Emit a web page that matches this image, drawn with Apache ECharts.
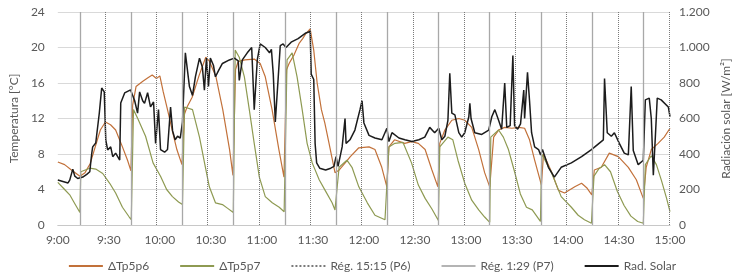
<!DOCTYPE html>
<html>
<head>
<meta charset="utf-8">
<script src="https://cdn.jsdelivr.net/npm/echarts@6/dist/echarts.min.js"></script>
<style>
  html, body { margin: 0; padding: 0; background: #fff; }
  #chart { width: 744px; height: 280px; }
</style>
</head>
<body>
<div id="chart"></div>
<script>
// minutes after 9:00
const timeTicks = [0, 30, 60, 90, 120, 150, 180, 210, 240, 270, 300, 330, 360]

// riegos (minutos desde 9:00)
const regP6 = [13, 28, 43, 58, 73, 88, 103, 118.5, 133.5, 148.5, 163.5, 178.5, 194, 209, 224, 239, 254, 269, 284, 299, 314.5, 329.5, 344.5, 359.5]
const regP7 = [13, 43, 73, 103, 133.5, 163.5, 194, 224, 254, 284, 314.5, 344.5]

// [min, °C]
const dTp5p6 = [[0, 7.1], [4, 6.8], [8, 6.2], [13, 5.5], [16, 5.9], [19, 6.9], [22, 8.8], [25, 10.7], [28, 11.6], [31, 11.3], [34, 10.7], [38, 8.8], [41, 7.3], [43, 6.1],
  [44, 13.5], [46, 15.6], [50, 16.2], [53, 16.6], [55.5, 16.9], [58, 16.5], [60, 16.8], [62, 15], [64.5, 13], [67.5, 10.5], [70, 8.5], [73, 6.8],
  [74.5, 12.5], [76, 13.3], [79, 14.4], [83, 16.8], [87, 18.9], [89, 18.5], [93, 16.7], [97, 13], [101, 8.5], [103, 5.6],
  [104.5, 17.5], [106, 18.4], [110, 18.6], [115.5, 18.7], [119, 18.2], [122, 16.7], [126, 13], [130, 8.5], [133, 5.4],
  [134.5, 17.5], [136, 18.2], [139, 19.2], [142, 20.5], [144, 21], [146, 21.6], [148.4, 22.1], [150.5, 19.7], [152.5, 16], [155, 13], [157, 11.5], [159.5, 9.2], [163, 5.9],
  [165.5, 6.2], [169, 7], [172, 7.7], [177, 8.7], [183, 8.8], [186.5, 8.5], [190.5, 6.5], [193.5, 4.3],
  [194.7, 8.8], [198, 9.6], [204, 9.2], [208, 9.4], [212, 9.2], [216, 8.5], [220, 6.2], [223.5, 4.3],
  [224.6, 9.2], [227.6, 10.7], [231.7, 11.8], [235.8, 12], [239.3, 11.8], [243.4, 11], [247.5, 8.5], [251, 5.9], [254, 4.3],
  [256.3, 9.9], [259.2, 10.7], [262.8, 11], [267, 10.9], [271, 11], [274.5, 10.9], [277.4, 9.6], [280.4, 7.3], [284.4, 4.5],
  [285.6, 8], [290.3, 6], [294.4, 3.9], [298, 3.6], [304, 4.3], [308, 4.7], [311, 4.2], [314, 3.4],
  [315.5, 6.2], [319.6, 6.5], [324.3, 8.1], [329.6, 7.7], [335.5, 6.5], [340.2, 5.1], [344.3, 3],
  [346, 6.5], [349, 8.5], [353, 9.2], [356.6, 9.9], [360, 10.9]]

const dTp5p7 = [[0, 4.8], [4, 4], [7, 3.4], [10, 2.4], [13, 1.4], [13.5, 6], [18.8, 6.4], [22.3, 6.3], [26.4, 5.8], [30.5, 4.7], [34, 3.6], [38, 2], [42, 0.9], [43.2, 0.6],
  [44.5, 13], [47, 12], [51.6, 10], [56, 7], [60.4, 5.5], [64, 4], [67.4, 3.2], [71, 2.6], [73.3, 2.3],
  [74.5, 13.3], [79.2, 13], [83.3, 9.9], [86.8, 6.5], [89.1, 4.3], [92.7, 2.5], [96.8, 2.3], [99.7, 1.9], [103.2, 1.4],
  [104.3, 19.7], [106.7, 18.9], [109.7, 16.7], [112.6, 13], [115.5, 9.2], [118.5, 5.4], [122, 3.2], [126.1, 2.5], [130.2, 2], [133.1, 1.5],
  [134.8, 18.6], [137.8, 19.4], [140.7, 16.7], [143.7, 13], [146.6, 9.2], [149.6, 7], [153.7, 5.1], [157.2, 3.9], [161.3, 2.5], [163, 1.7],
  [165.4, 6.5], [170, 7.3], [173, 6.5], [177, 4.3], [182, 2.5], [186.5, 1.1], [192.4, 0.6], [193.5, 0.5],
  [194.7, 8.8], [198.2, 9.2], [203, 9.3], [208, 7], [212, 4.5], [216, 3], [220, 1.8], [223.8, 0.5],
  [224.6, 8.8], [229.4, 9.9], [232.3, 9.6], [235.3, 7.3], [239.3, 4.7], [243.4, 2.8], [247.5, 1.7], [251, 0.9], [254, 0.3],
  [254.6, 9.9], [259.2, 10.7], [262, 9.9], [265, 8.5], [268.6, 6], [272, 3.5], [275.6, 2], [279, 1.7], [283.8, 0.4],
  [284.6, 8], [290.3, 5.9], [296, 3.2], [302, 2], [306, 1.1], [309.7, 0.6], [313.8, 0.2],
  [315.3, 5.5], [318, 6.3], [321.5, 6.8], [325, 6], [329, 3.8], [333, 2.2], [337, 1], [341, 0.4], [344.3, 0.2],
  [345.5, 6.8], [349, 7.8], [352, 6.8], [355, 5], [358, 3], [360, 1.5]]

// [min, W/m2]
const radSolar = [[0, 253], [3, 245], [6, 237], [7, 253], [8.8, 315], [10, 275], [11.7, 262], [14.7, 270], [17, 285], [18.8, 300], [19.9, 400], [20.5, 440], [22.3, 462],
  [24.4, 631], [25.8, 772], [27.3, 750], [28.2, 479], [29.3, 423], [31.1, 440], [32.3, 385], [34, 405], [36.4, 366], [37, 687], [39.3, 744], [42.8, 761],
  [45.2, 700], [46.9, 630], [48.1, 750], [49.9, 700], [51, 685], [52.8, 745], [54.5, 665], [56.3, 693], [57.5, 460], [59.2, 650], [60.4, 425], [62.8, 410],
  [64.5, 425], [66.3, 665], [67.5, 530], [69, 480], [70.4, 500], [72, 490], [73.3, 580], [75, 970], [77.4, 780], [79.2, 730], [80.9, 835], [83.3, 940],
  [85, 890], [86.2, 760], [87.4, 940], [88.6, 780], [89.7, 940], [91.5, 900], [92.7, 835], [94.5, 870], [96.8, 910], [100.9, 930], [103.8, 940],
  [106.1, 925], [106.7, 815], [108.5, 930], [111.4, 970], [114, 1000], [115.5, 650], [117.3, 930], [119, 1020], [122, 1000], [124.5, 970], [125.6, 990],
  [126.7, 850], [127.9, 580], [129.6, 830], [130.8, 1010], [132.5, 1020], [134.2, 1000], [137.2, 1030], [141.3, 1050], [145.5, 1080], [148.4, 1090],
  [149, 850], [150.5, 820], [151.3, 460], [152.2, 350], [154, 320], [157.5, 310], [160.5, 320], [162.4, 330], [163.6, 385], [164.8, 330], [167.2, 440],
  [168.9, 600], [169.5, 460], [171.8, 480], [174.7, 535], [177.7, 650], [178.9, 700], [180, 575], [183, 505], [186.5, 490], [190.6, 480], [193.5, 545],
  [194.7, 470], [196.5, 520], [200.6, 490], [204.1, 480], [208.2, 470], [212.3, 480], [215.8, 495], [218.7, 550], [221.6, 520], [224, 545], [225.8, 480],
  [227.6, 500], [229.4, 590], [230.5, 855], [231.7, 630], [233.5, 620], [235.8, 520], [237.5, 495], [239.3, 520], [241.7, 610], [242.3, 685], [243, 600],
  [245.2, 520], [249.3, 510], [253.4, 535], [255.2, 610], [257, 650], [259.2, 590], [261, 540], [262.8, 800], [264, 550], [266, 560], [267.6, 955],
  [268.6, 560], [270.4, 540], [272.1, 570], [274, 760], [274.5, 600], [276.2, 860], [277.4, 700], [278.6, 520], [280.4, 440], [282.7, 425], [283.9, 395],
  [285, 425], [288.5, 325], [292, 270], [296, 325], [302, 350], [308, 385], [313.8, 425], [320.8, 480], [321.5, 825], [323.1, 520], [325.5, 500],
  [327.3, 520], [330.2, 460], [333.1, 405], [335.5, 395], [337.2, 780], [338.4, 420], [341.3, 340], [344.3, 365], [345.5, 705], [347.8, 715],
  [349, 600], [350.2, 280], [351.4, 500], [352.5, 715], [354.8, 705], [359, 665], [360, 610]]

const textColor = '#595959'
const font = 'Lato, "Open Sans", sans-serif'

function minToTime(v) {
  const h = 9 + Math.floor(v / 60)
  const m = Math.round(v % 60)
  return h + ':' + (m < 10 ? '0' + m : m)
}

function thousands(v) {
  return v >= 1000 ? String(v).replace(/(\d)(\d{3})$/, '$1.$2') : String(v)
}

const chart = echarts.init(document.getElementById('chart'))
chart.setOption({
  animation: false,
  textStyle: { fontFamily: font },
  grid: { left: 55, right: 74, top: 12, bottom: 55 },
  legend: {
    bottom: 3,
    left: 'center',
    itemWidth: 34,
    itemHeight: 8,
    itemGap: 30,
    itemStyle: { opacity: 0 },
    textStyle: { color: textColor, fontSize: 12, fontFamily: font },
    data: ['ΔTp5p6', 'ΔTp5p7', 'Rég. 15:15 (P6)', 'Rég. 1:29 (P7)', 'Rad. Solar']
  },
  xAxis: {
    type: 'value',
    min: 0,
    max: 360,
    interval: 30,
    axisLine: { show: true, lineStyle: { color: '#c8c8c8' } },
    axisTick: { show: false },
    splitLine: { show: false },
    axisLabel: { color: textColor, fontSize: 12, margin: 9, formatter: v => timeTicks.includes(v) ? minToTime(v) : '' }
  },
  yAxis: [
    {
      type: 'value',
      min: 0,
      max: 24,
      interval: 4,
      name: 'Temperatura [°C]',
      nameLocation: 'middle',
      nameGap: 36,
      nameTextStyle: { color: textColor, fontSize: 12 },
      axisLine: { show: false },
      axisTick: { show: false },
      axisLabel: { color: textColor, fontSize: 12, margin: 13 },
      splitLine: { lineStyle: { color: '#d9d9d9' } }
    },
    {
      type: 'value',
      min: 0,
      max: 1200,
      interval: 200,
      name: 'Radiación solar [W/m²]',
      nameLocation: 'middle',
      nameGap: 46,
      nameTextStyle: { color: textColor, fontSize: 12 },
      axisLine: { show: false },
      axisTick: { show: false },
      axisLabel: { color: textColor, fontSize: 12, margin: 9, formatter: thousands },
      splitLine: { show: false }
    }
  ],
  series: [
    {
      name: 'ΔTp5p6',
      type: 'line',
      symbol: 'none',
      z: 3,
      lineStyle: { color: '#c2713a', width: 1.2 },
      itemStyle: { color: '#c2713a' },
      data: dTp5p6
    },
    {
      name: 'ΔTp5p7',
      type: 'line',
      symbol: 'none',
      z: 3,
      lineStyle: { color: '#8e9a52', width: 1.2 },
      itemStyle: { color: '#8e9a52' },
      data: dTp5p7
    },
    {
      name: 'Rég. 15:15 (P6)',
      type: 'line',
      symbol: 'none',
      z: 1,
      lineStyle: { color: '#7a7a7a', width: 1, type: 'dotted' },
      itemStyle: { color: '#7a7a7a' },
      data: [],
      markLine: {
        silent: true,
        symbol: ['none', 'none'],
        label: { show: false },
        lineStyle: { color: '#7a7a7a', width: 1, type: 'dotted' },
        data: regP6.map(t => ({ xAxis: t }))
      }
    },
    {
      name: 'Rég. 1:29 (P7)',
      type: 'line',
      symbol: 'none',
      z: 1,
      lineStyle: { color: '#b4b4b4', width: 1, type: 'solid' },
      itemStyle: { color: '#b4b4b4' },
      data: [],
      markLine: {
        silent: true,
        symbol: ['none', 'none'],
        label: { show: false },
        lineStyle: { color: '#a8a8a8', width: 1.3, type: 'solid' },
        data: regP7.map(t => ({ xAxis: t }))
      }
    },
    {
      name: 'Rad. Solar',
      type: 'line',
      yAxisIndex: 1,
      symbol: 'none',
      z: 4,
      lineStyle: { color: '#1c1c1c', width: 1.5 },
      itemStyle: { color: '#1c1c1c' },
      data: radSolar
    }
  ]
})
</script>
</body>
</html>
